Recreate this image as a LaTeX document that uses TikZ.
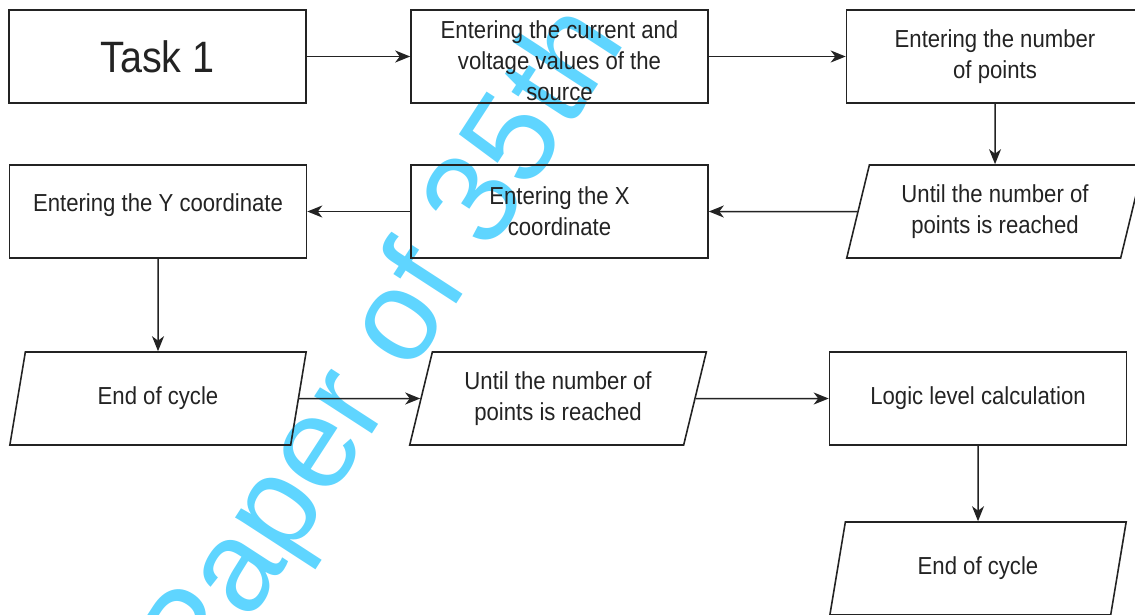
\documentclass[tikz,border=0pt]{standalone}
\usepackage{fontspec}
\setmainfont{Liberation Sans}[FakeStretch=0.9]
\newfontfamily\wmfont{Liberation Sans}
\usetikzlibrary{shapes.geometric,arrows.meta}
\definecolor{wmark}{RGB}{95,213,255}
\definecolor{ink}{RGB}{35,35,35}

\begin{document}
\begin{tikzpicture}[x=0.2mm,y=-0.2mm,
  box/.style={draw=ink, line width=0.9pt, minimum width=59.4mm, minimum height=18.6mm,
    inner xsep=2pt, inner ysep=0pt, align=center, text=ink,
    font=\fontsize{14}{17.6}\selectfont},
  io/.style={box, trapezium, trapezium left angle=72, trapezium right angle=108,
    trapezium stretches=true},
  flow/.style={draw=ink, line width=0.85pt, -{Stealth[length=3mm,width=2.4mm,inset=0.9mm]}}]

\clip (0,0) rectangle (1135,614);

% watermark across the sheet
\node[rotate=57, anchor=base west, text=wmark, inner sep=0pt,
  font=\wmfont\fontsize{74}{74}\selectfont] (wm) at (202,696) {Paper of 35th};

% first row
\node[box, font=\fontsize{25}{30}\selectfont] (task) at (157.5,56.5) {Task 1};
\node[box] (src) at (559.5,56.5)
  {\rule{0pt}{14.8pt}Entering the current and\\voltage values of the\\source};
\node[box] (npts) at (995,56.5) {Entering the number\\of points};

% second row
\node[io] (loop1) at (995,211.5) {Until the number of\\points is reached};
\node[box] (xc) at (559.5,211.5) {Entering the X\\coordinate};
\node[box, text depth=10pt] (yc) at (158,211.5) {Entering the Y coordinate};

% third row
\node[io] (end1) at (158,398.5) {End of cycle};
\node[io] (loop2) at (558,398.5) {Until the number of\\points is reached};
\node[box] (logic) at (978,398.5) {Logic level calculation};

% last block
\node[io] (end2) at (978,568.5) {End of cycle};

% connectors
\draw[flow] (task) -- (src);
\draw[flow] (src) -- (npts);
\draw[flow] (npts.south) -- (loop1.north);
\draw[flow] (loop1.west) -- (xc.east);
\draw[flow] (xc) -- (yc);
\draw[flow] (yc.south) -- (end1.north);
\draw[flow] (end1.east) -- (loop2.west);
\draw[flow] (loop2.east) -- (logic.west);
\draw[flow] (logic.south) -- (end2.north);
\end{tikzpicture}
\end{document}
